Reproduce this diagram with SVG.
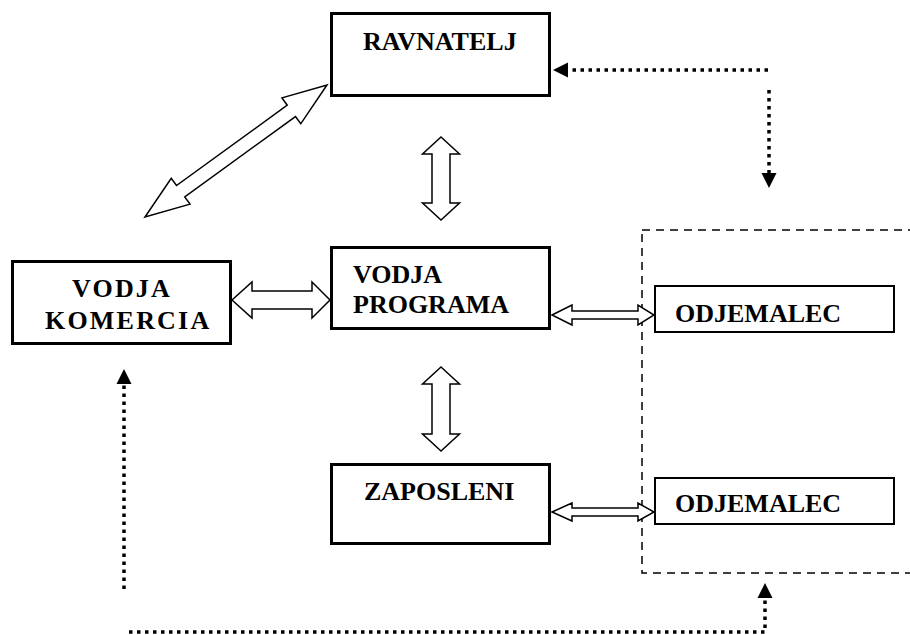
<svg xmlns="http://www.w3.org/2000/svg" width="910" height="635" viewBox="0 0 910 635">
<style>
.box{fill:#fff;stroke:#000;stroke-width:3}
.thin{fill:#fff;stroke:#000;stroke-width:2}
.lbl{font-family:"Liberation Serif","Times New Roman",serif;font-weight:bold;font-size:26px;fill:#000}
.sp{letter-spacing:2.2px}
.dbl{fill:#fff;stroke:#000;stroke-width:1.5;stroke-linejoin:miter}
.dot{fill:none;stroke:#000;stroke-width:3.5;stroke-dasharray:3.5 4.5}
.dash{fill:none;stroke:#000;stroke-width:1.5;stroke-dasharray:8 6}
</style>
<defs>
<marker id="tri" markerUnits="userSpaceOnUse" markerWidth="16" markerHeight="16" viewBox="0 0 16 16" refX="0" refY="8" orient="auto">
<path d="M0,0.5 L15,8 L0,15.5 z" fill="#000"/>
</marker>
</defs>
<rect width="910" height="635" fill="#fff"/>
<g id="group-odjemalci">
<rect class="dash" x="642" y="230" width="300" height="343"/>
</g>
<g id="connectors">
<polygon class="dbl" transform="translate(145,217) rotate(-35.95)" points="0,0 44,-16 44,-7 180.8,-7 180.8,-16 224.8,0 180.8,16 180.8,7 44,7 44,16"/>
<polygon class="dbl" points="441,137 459.5,154 450,154 450,203 459.5,203 441,220 422.5,203 432,203 432,154 422.5,154"/>
<polygon class="dbl" points="441,367 459.5,384 450,384 450,434 459.5,434 441,451 422.5,434 432,434 432,384 422.5,384"/>
<polygon class="dbl" points="232,300 252,282 252,291 312,291 312,282 330,300 312,318 312,309 252,309 252,318"/>
<polygon class="dbl" points="552,315 572,305 572,311 638,311 638,305 654,315 638,325 638,319 572,319 572,325"/>
<polygon class="dbl" points="552,512 572,503 572,508 638,508 638,503 654,512 638,521 638,516 572,516 572,521"/>
<path class="dot" d="M768,70 L568,70" marker-end="url(#tri)"/>
<path class="dot" d="M769,90 L769,173" marker-end="url(#tri)"/>
<path class="dot" d="M124,589 L124,384" marker-end="url(#tri)"/>
<path class="dot" d="M129,632 L765,632 L765,598" marker-end="url(#tri)"/>
</g>
<g id="ravnatelj">
<rect class="box" x="331.5" y="13.5" width="218" height="82"/>
<text class="lbl" x="363" y="50">RAVNATELJ</text>
</g>
<g id="vodja-komercia">
<rect class="box" x="12.5" y="261.5" width="218" height="82"/>
<text class="lbl sp" x="72" y="297">VODJA</text>
<text class="lbl sp" x="45" y="329">KOMERCIA</text>
</g>
<g id="vodja-programa">
<rect class="box" x="331.5" y="247.5" width="218" height="81"/>
<text class="lbl" x="353" y="283">VODJA</text>
<text class="lbl" x="353" y="313">PROGRAMA</text>
</g>
<g id="zaposleni">
<rect class="box" x="331.5" y="464.5" width="218" height="79"/>
<text class="lbl" x="364" y="500">ZAPOSLENI</text>
</g>
<g id="odjemalec-1">
<rect class="thin" x="655" y="286" width="239" height="46"/>
<text class="lbl" x="675" y="322">ODJEMALEC</text>
</g>
<g id="odjemalec-2">
<rect class="thin" x="655" y="478" width="239" height="46"/>
<text class="lbl" x="675" y="512">ODJEMALEC</text>
</g>
</svg>
